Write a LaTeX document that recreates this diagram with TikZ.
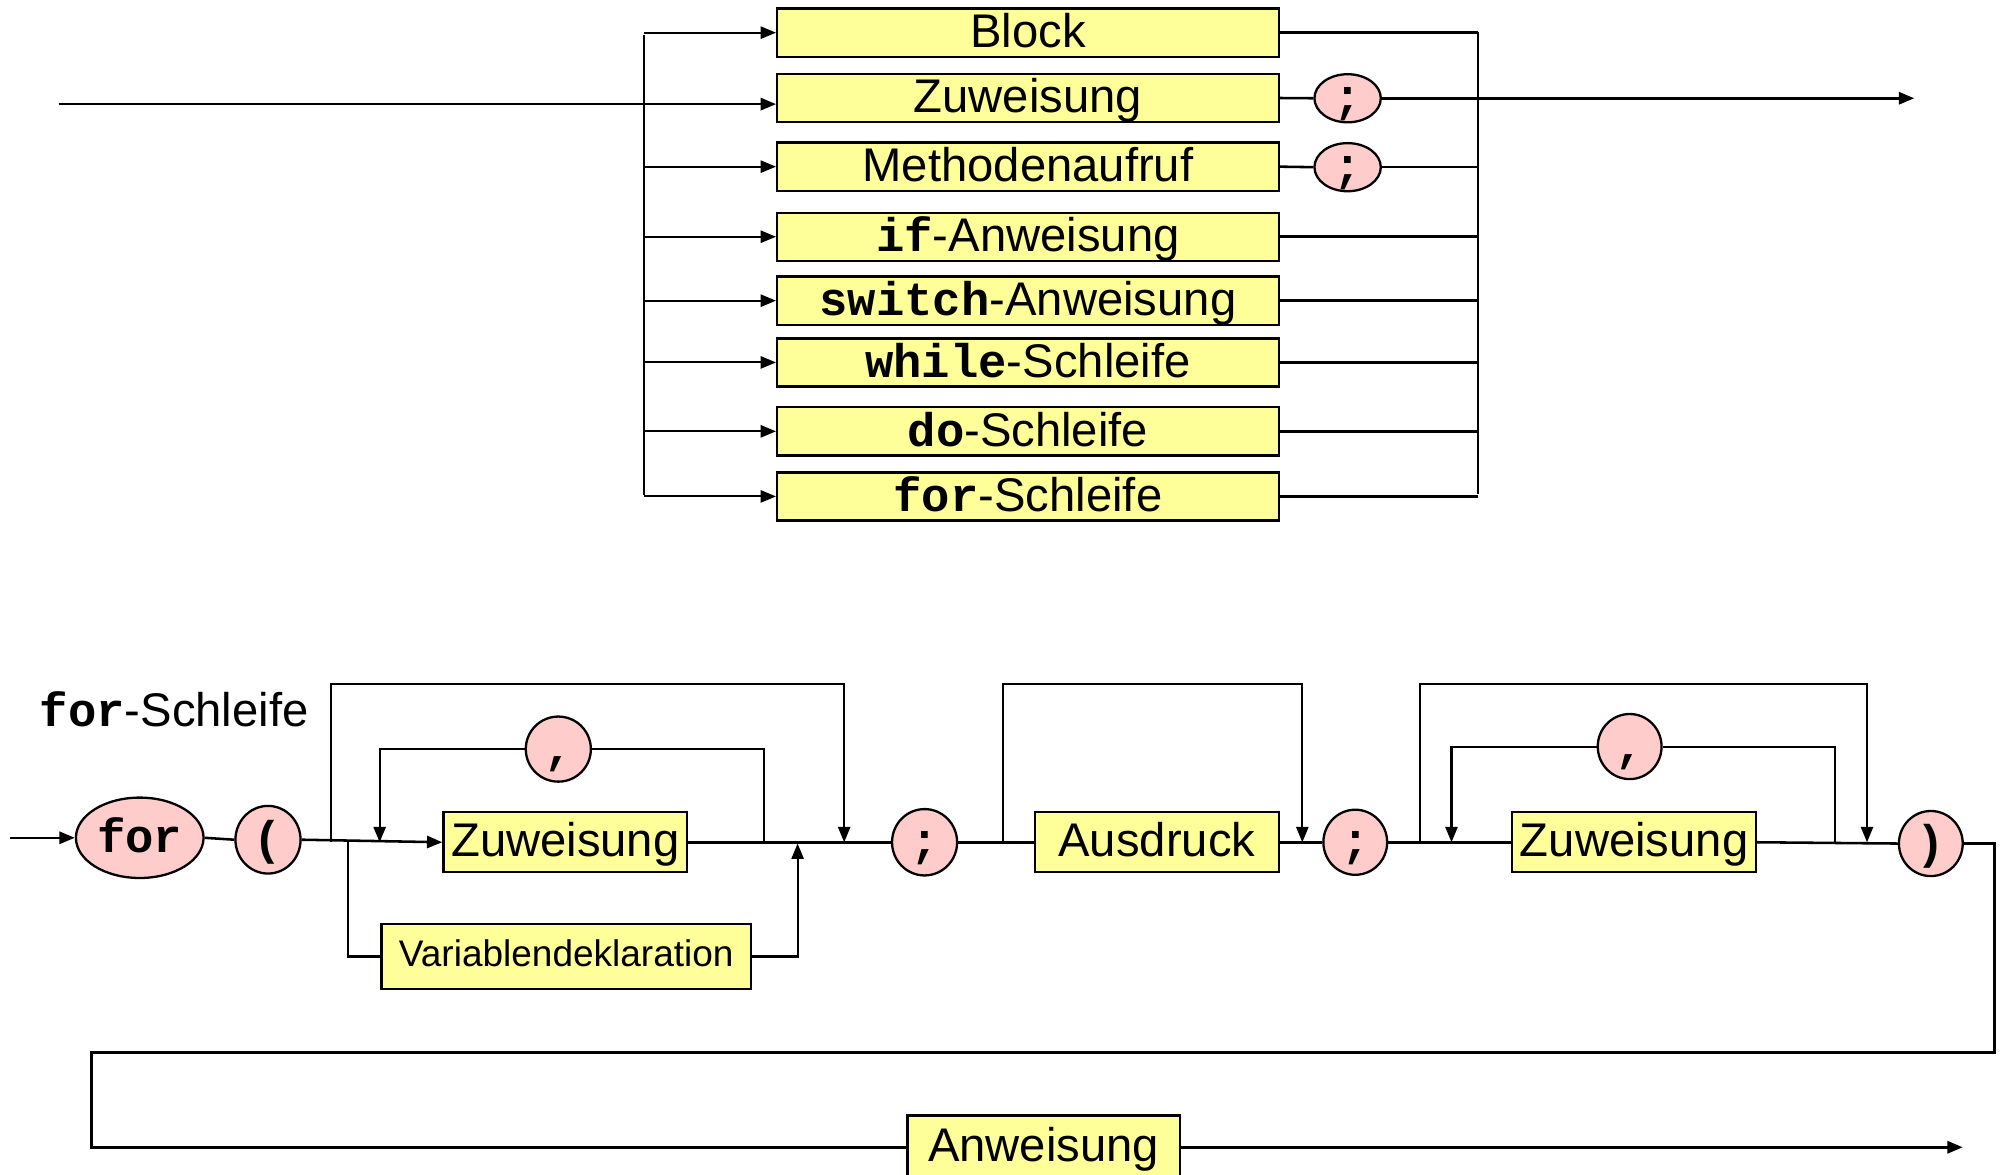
\documentclass[tikz,border=0pt]{standalone}
\usepackage{fontspec}
\setmainfont{Liberation Sans}
\setmonofont{Liberation Mono}
\usetikzlibrary{arrows.meta,shapes.geometric}
\definecolor{boxyellow}{HTML}{FFFF99}
\definecolor{ovalpink}{HTML}{FFCCCC}
\begin{document}
\begin{tikzpicture}[x=1pt,y=-1pt,
  ln/.style={line width=2pt},
  thn/.style={line width=1.6pt},
  arr/.style={-{Triangle[length=12pt,width=9.5pt]}},
  ybox/.style={draw, line width=1.8pt, fill=boxyellow, inner sep=0pt,
    minimum height=37.7pt, font=\fontsize{37}{40}\selectfont,
    text height=27pt, text depth=4pt},
  tbox/.style={ybox, minimum width=393pt},
  oval/.style={ellipse, draw, line width=1.8pt, fill=ovalpink, inner sep=0pt},
  otext/.style={font=\fontsize{37}{40}\selectfont\ttfamily\bfseries,
    inner sep=0pt, text height=27pt, text depth=4pt},
]
\useasboundingbox (0,0) rectangle (1568,920);

% ---------- top part ----------
\node[tbox] (t1) at (805.5,25.6) {Block};
\node[tbox] (t2) at (805.5,76.8) {Zuweisung};
\node[tbox] (t3) at (805.5,130.6) {Methodenaufruf};
\node[tbox] (t4) at (805.5,185.5) {{\ttfamily\bfseries if}-Anweisung};
\node[tbox] (t5) at (805.5,235.6) {{\ttfamily\bfseries switch}-Anweisung};
\node[tbox] (t6) at (805.5,284) {{\ttfamily\bfseries while}-Schleife};
\node[tbox] (t7) at (805.5,338) {{\ttfamily\bfseries do}-Schleife};
\node[tbox] (t8) at (805.5,389) {{\ttfamily\bfseries for}-Schleife};

\node[oval, minimum width=52pt, minimum height=37.7pt, label={[otext]center:{;}}] (s1) at (1056,77) {};
\node[oval, minimum width=52pt, minimum height=37.7pt, label={[otext]center:{;}}] (s2) at (1056,131) {};

\coordinate (jin) at (46,81.6);
\coordinate (jt) at (505,27.5);
\coordinate (jb) at (505,388);
\coordinate (rt) at (1158,25);
\coordinate (rb) at (1158,387);
\coordinate (tout) at (1500,77);

\draw[thn] (jt) -- (jb);
\draw[ln,arr] (jin) -- (jin -| t2.west);
\foreach \t in {t1,t3,t4,t5,t6,t7,t8} {\draw[thn,arr] (jt |- \t.west) -- (\t.west);}

\draw[thn] (rt) -- (rb);
\foreach \t in {t1,t4,t5,t6,t7,t8} {\draw[ln] (\t.east) -- (\t.east -| rt);}
\draw[ln] (t2.east) -- (s1.west);
\draw[ln,arr] (s1.east) -- (s1.east -| tout);
\draw[ln] (t3.east) -- (s2.west);
\draw[ln] (s2.east) -- (s2.east -| rt);

% ---------- bottom part ----------
\node[anchor=base west, inner sep=0pt, font=\fontsize{37}{40}\selectfont] (lbl) at (31,569.5) {{\ttfamily\bfseries for}-Schleife};

\node[oval, minimum width=100pt, minimum height=63pt, label={[otext]center:for}] (for) at (109.5,656.5) {};
\node[oval, minimum width=51pt, minimum height=53pt, label={[otext]center:{(}}] (lp) at (210,658) {};
\node[ybox, minimum width=191pt, minimum height=47pt] (z1) at (443,660) {Zuweisung};
\node[ybox, minimum width=289.5pt, minimum height=51pt, font=\fontsize{29}{32}\selectfont,
  text height=21pt, text depth=5pt] (vd) at (443.75,749.5) {Variablendeklaration};
\node[oval, minimum width=51pt, minimum height=52pt, label={[otext]center:{;}}] (sc1) at (724.5,660) {};
\node[ybox, minimum width=191pt, minimum height=47pt] (ad) at (906.5,660) {Ausdruck};
\node[oval, minimum width=50pt, minimum height=51pt, label={[otext]center:{;}}] (sc2) at (1062,660) {};
\node[ybox, minimum width=191pt, minimum height=47pt] (z2) at (1280.5,660) {Zuweisung};
\node[oval, minimum width=50pt, minimum height=51pt, label={[otext]center:{)}}] (rp) at (1513,661) {};
\node[oval, minimum width=51pt, minimum height=51pt, label={[otext]center:{,}}] (cm1) at (437.5,587) {};
\node[oval, minimum width=50pt, minimum height=51pt, label={[otext]center:{,}}] (cm2) at (1277,585) {};
\node[ybox, minimum width=213.5pt, minimum height=50pt] (an) at (817.75,899) {Anweisung};

\coordinate (fin) at (8,656.5);
\coordinate (tl) at (0,536);
\coordinate (p1) at (259.5,660);
\coordinate (v1) at (272.5,660);
\coordinate (c1l) at (297.5,660);
\coordinate (c1r) at (598.5,660);
\coordinate (v2) at (625,661);
\coordinate (p2) at (661.5,660);
\coordinate (p3) at (786,660);
\coordinate (p4) at (1020.5,660);
\coordinate (p5) at (1112.4,660);
\coordinate (c2l) at (1137.4,660);
\coordinate (c2r) at (1438,660);
\coordinate (p6) at (1463,660);
\coordinate (r1) at (1563,824.6);
\coordinate (r2) at (71.5,824.6);
\coordinate (ex) at (1538,899);

\draw[ln,arr] (fin) -- (for.west);
\draw[ln] (for.east) -- (lp.west);
\draw[ln,arr] (lp.east) -- (z1.west);
\draw[ln] (z1.east) -- (sc1.west);
\draw[ln] (sc1.east) -- (ad.west);
\draw[ln] (ad.east) -- (sc2.west);
\draw[ln] (sc2.east) -- (z2.west);
\draw[ln] (z2.east) -- (rp.west);
\draw[ln] (rp.east) -| (r1) -- (r2) |- (an.west);
\draw[ln,arr] (an.east) -- (an.east -| ex);

% bypasses
\draw[thn,arr] (p1) -- (p1 |- tl) -- (p2 |- tl) -- (p2);
\draw[thn,arr] (p3) -- (p3 |- tl) -- (p4 |- tl) -- (p4);
\draw[thn,arr] (p5) -- (p5 |- tl) -- (p6 |- tl) -- (p6);

% comma loops
\draw[thn] (c1r) -- (c1r |- cm1) -- (cm1.east);
\draw[thn,arr] (cm1.west) -- (c1l |- cm1) -- (c1l);
\draw[thn] (c2r) -- (c2r |- cm2) -- (cm2.east);
\draw[thn,arr] (cm2.west) -- (c2l |- cm2) -- (c2l);

% Variablendeklaration branch
\draw[thn] (v1) |- (vd.west);
\draw[thn,arr] (vd.east) -| (v2);
\end{tikzpicture}
\end{document}
